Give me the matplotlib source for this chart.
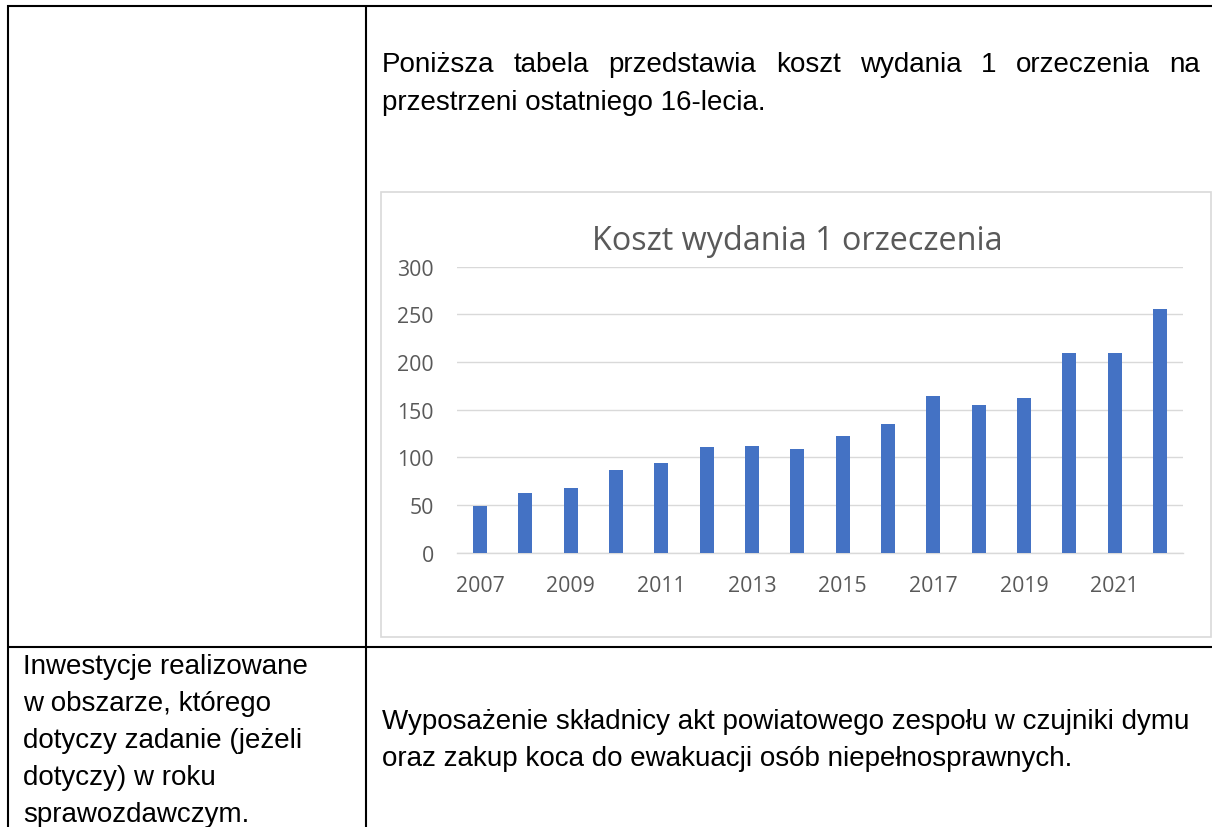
import matplotlib
matplotlib.use('Agg')
import matplotlib.pyplot as plt
from matplotlib.patches import Rectangle

# Data
years = list(range(2007, 2023))
cost = [49, 63, 68, 87, 94, 111, 112, 109, 122, 135, 164, 155, 162, 210, 210, 256]
y_ticks = [0, 50, 100, 150, 200, 250, 300]
x_label_years = [2007, 2009, 2011, 2013, 2015, 2017, 2019, 2021]

chart_title = "Koszt wydania 1 orzeczenia"
intro_line1 = "Poniższa tabela przedstawia koszt wydania 1 orzeczenia na"
intro_line2 = "przestrzeni ostatniego 16-lecia."
left_cell = ["Inwestycje realizowane", "w obszarze, którego",
             "dotyczy zadanie (jeżeli", "dotyczy) w roku", "sprawozdawczym."]
right_cell = ["Wyposażenie składnicy akt powiatowego zespołu w czujniki dymu",
              "oraz zakup koca do ewakuacji osób niepełnosprawnych."]

W, H = 1212, 828
BODY_FONT = 'Liberation Sans'
CHART_FONT = 'Open Sans'
BODY_SIZE = 20
LINE_STEP = 37
GREY = '#595959'
GRID = '#d9d9d9'

fig = plt.figure(figsize=(W / 100, H / 100), dpi=100)

# background axes in pixel coordinates (y down)
bg = fig.add_axes([0, 0, 1, 1])
bg.set_xlim(0, W)
bg.set_ylim(H, 0)
bg.axis('off')

# table lines
lw = 1.5
bg.plot([7, W], [7, 7], color='black', lw=lw, solid_capstyle='butt')
bg.plot([7.5, 7.5], [6, H], color='black', lw=lw, solid_capstyle='butt')
bg.plot([366, 366], [6, H], color='black', lw=lw, solid_capstyle='butt')
bg.plot([7, W], [647.5, 647.5], color='black', lw=lw, solid_capstyle='butt')

# chart frame
bg.add_patch(Rectangle((380.7, 192.7), 1210.5 - 380.7, 637.7 - 192.7,
                       fill=False, edgecolor=GRID, lw=1.2))

renderer = fig.canvas.get_renderer()


def justify(line, x0, x1, y):
    words = line.split()
    items = [bg.text(0, y, w, fontsize=BODY_SIZE, family=BODY_FONT,
                     va='baseline', ha='left') for w in words]
    widths = [t.get_window_extent(renderer).width for t in items]
    gap = (x1 - x0 - sum(widths)) / (len(words) - 1)
    x = x0
    for t, wd in zip(items, widths):
        t.set_x(x)
        x += wd + gap


justify(intro_line1, 382, 1200, 71.5)
bg.text(382, 71.5 + LINE_STEP + 1, intro_line2, fontsize=BODY_SIZE, family=BODY_FONT,
        va='baseline')

for i, line in enumerate(left_cell):
    bg.text(23, 674.5 + i * LINE_STEP, line, fontsize=BODY_SIZE, family=BODY_FONT,
            va='baseline')

for i, line in enumerate(right_cell):
    bg.text(382, 729.5 + i * LINE_STEP, line, fontsize=BODY_SIZE, family=BODY_FONT,
            va='baseline')

bg.text(797, 250, chart_title, fontsize=23.3, family=CHART_FONT, color=GREY,
        ha='center', va='baseline')

# chart axes
ax = fig.add_axes([457.3 / W, 1 - 553.7 / H, (1182.7 - 457.3) / W, (553.7 - 267.7) / H])
ax.bar(range(len(years)), cost, width=0.315, color='#4472C4', zorder=3)
ax.set_xlim(-0.5, len(years) - 0.5)
ax.set_ylim(0, 300)
ax.set_yticks(y_ticks)
ax.set_yticklabels([str(v) for v in y_ticks], fontsize=15.3, family=CHART_FONT, color=GREY)
ax.set_xticks([years.index(y) for y in x_label_years])
ax.set_xticklabels([str(y) for y in x_label_years], fontsize=15.3, family=CHART_FONT, color=GREY)
ax.tick_params(axis='y', length=0, pad=17)
ax.tick_params(axis='x', length=0, pad=16)
ax.grid(axis='y', color=GRID, lw=1.0, zorder=0)
for s in ['top', 'right', 'left']:
    ax.spines[s].set_visible(False)
ax.spines['bottom'].set_color(GRID)
ax.spines['bottom'].set_linewidth(1.0)
ax.patch.set_alpha(0)

fig.savefig('out.png', dpi=100)
